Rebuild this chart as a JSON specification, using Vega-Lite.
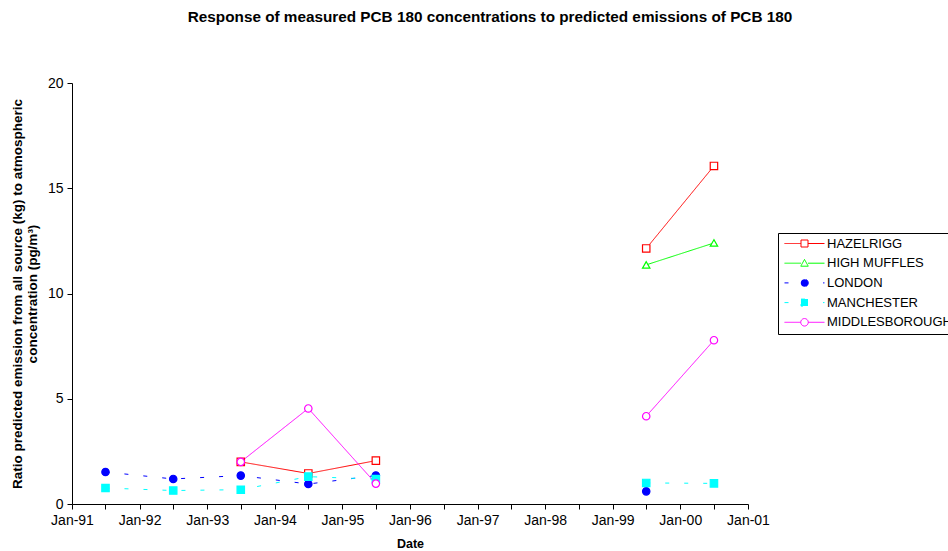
{
  "$schema": "https://vega.github.io/schema/vega-lite/v6.json",
  "width": 676,
  "height": 421,
  "autosize": {"type": "none"},
  "padding": {"left": 72, "top": 83, "right": 200, "bottom": 47},
  "background": "white",
  "title": {
    "text": "Response of measured PCB 180 concentrations to predicted emissions of PCB 180",
    "anchor": "middle",
    "frame": "group",
    "dx": 80,
    "offset": 51,
    "fontSize": 15.3,
    "fontWeight": "bold",
    "font": "Liberation Sans",
    "color": "black"
  },
  "config": {
    "view": {"stroke": null},
    "axis": {
      "labelFont": "Liberation Sans",
      "labelFontSize": 14,
      "labelColor": "black",
      "domainColor": "black",
      "tickColor": "black",
      "titleFont": "Liberation Sans",
      "titleFontSize": 13.5,
      "titleFontWeight": "bold",
      "titleColor": "black",
      "grid": false,
      "tickSize": 5
    }
  },
  "data": {
    "values": [
      {"site": "HAZELRIGG", "date": "1993-07-01", "ratio": 2.0, "seg": "a"},
      {"site": "HAZELRIGG", "date": "1994-07-01", "ratio": 1.45, "seg": "a"},
      {"site": "HAZELRIGG", "date": "1995-07-01", "ratio": 2.06, "seg": "a"},
      {"site": "HAZELRIGG", "date": "1999-07-01", "ratio": 12.14, "seg": "b"},
      {"site": "HAZELRIGG", "date": "2000-07-01", "ratio": 16.06, "seg": "b"},
      {"site": "HIGH MUFFLES", "date": "1999-07-01", "ratio": 11.36, "seg": "b"},
      {"site": "HIGH MUFFLES", "date": "2000-07-01", "ratio": 12.4, "seg": "b"},
      {"site": "LONDON", "date": "1991-07-01", "ratio": 1.52, "seg": "a"},
      {"site": "LONDON", "date": "1992-07-01", "ratio": 1.19, "seg": "a"},
      {"site": "LONDON", "date": "1993-07-01", "ratio": 1.35, "seg": "a"},
      {"site": "LONDON", "date": "1994-07-01", "ratio": 0.95, "seg": "a"},
      {"site": "LONDON", "date": "1995-07-01", "ratio": 1.35, "seg": "a"},
      {"site": "LONDON", "date": "1999-07-01", "ratio": 0.6, "seg": "b"},
      {"site": "MANCHESTER", "date": "1991-07-01", "ratio": 0.76, "seg": "a"},
      {"site": "MANCHESTER", "date": "1992-07-01", "ratio": 0.64, "seg": "a"},
      {"site": "MANCHESTER", "date": "1993-07-01", "ratio": 0.68, "seg": "a"},
      {"site": "MANCHESTER", "date": "1994-07-01", "ratio": 1.3, "seg": "a"},
      {"site": "MANCHESTER", "date": "1995-07-01", "ratio": 1.18, "seg": "a"},
      {"site": "MANCHESTER", "date": "1999-07-01", "ratio": 1.0, "seg": "b"},
      {"site": "MANCHESTER", "date": "2000-07-01", "ratio": 0.98, "seg": "b"},
      {"site": "MIDDLESBOROUGH", "date": "1993-07-01", "ratio": 2.0, "seg": "a"},
      {"site": "MIDDLESBOROUGH", "date": "1994-07-01", "ratio": 4.54, "seg": "a"},
      {"site": "MIDDLESBOROUGH", "date": "1995-07-01", "ratio": 0.97, "seg": "a"},
      {"site": "MIDDLESBOROUGH", "date": "1999-07-01", "ratio": 4.17, "seg": "b"},
      {"site": "MIDDLESBOROUGH", "date": "2000-07-01", "ratio": 7.78, "seg": "b"}
    ]
  },
  "encoding": {
    "x": {
      "field": "date",
      "type": "temporal",
      "scale": {"type": "utc", "domain": [{"year": 1991, "month": 1, "date": 1, "utc": true}, {"year": 2001, "month": 1, "date": 1, "utc": true}]},
      "axis": {
        "title": "Date",
        "titleFontSize": 12.5,
        "values": [
          {"year": 1991, "month": 1, "date": 1, "utc": true}, {"year": 1991, "month": 7, "date": 1, "utc": true},
          {"year": 1992, "month": 1, "date": 1, "utc": true}, {"year": 1992, "month": 7, "date": 1, "utc": true},
          {"year": 1993, "month": 1, "date": 1, "utc": true}, {"year": 1993, "month": 7, "date": 1, "utc": true},
          {"year": 1994, "month": 1, "date": 1, "utc": true}, {"year": 1994, "month": 7, "date": 1, "utc": true},
          {"year": 1995, "month": 1, "date": 1, "utc": true}, {"year": 1995, "month": 7, "date": 1, "utc": true},
          {"year": 1996, "month": 1, "date": 1, "utc": true}, {"year": 1996, "month": 7, "date": 1, "utc": true},
          {"year": 1997, "month": 1, "date": 1, "utc": true}, {"year": 1997, "month": 7, "date": 1, "utc": true},
          {"year": 1998, "month": 1, "date": 1, "utc": true}, {"year": 1998, "month": 7, "date": 1, "utc": true},
          {"year": 1999, "month": 1, "date": 1, "utc": true}, {"year": 1999, "month": 7, "date": 1, "utc": true},
          {"year": 2000, "month": 1, "date": 1, "utc": true}, {"year": 2000, "month": 7, "date": 1, "utc": true},
          {"year": 2001, "month": 1, "date": 1, "utc": true}
        ],
        "labelExpr": "utcmonth(datum.value) == 0 ? utcFormat(datum.value, '%b-%y') : ''",
        "labelPadding": 4,
        "titlePadding": 10,
        "labelOverlap": false,
        "labelFlush": false
      }
    },
    "y": {
      "field": "ratio",
      "type": "quantitative",
      "scale": {"domain": [0, 20], "nice": false},
      "axis": {
        "values": [0, 5, 10, 15, 20],
        "title": ["Ratio predicted emission from all source (kg)  to atmospheric", "concentration  (pg/m³)"],
        "titleLineHeight": 15,
        "labelPadding": 4,
        "titlePadding": 8
      }
    }
  },
  "layer": [
    {
      "mark": {"type": "line", "strokeWidth": 1},
      "encoding": {
        "detail": {"field": "seg"},
        "stroke": {
          "field": "site",
          "type": "nominal",
          "scale": {
            "domain": ["HAZELRIGG", "HIGH MUFFLES", "LONDON", "MANCHESTER", "MIDDLESBOROUGH"],
            "range": ["#FF0000", "#00FF00", "#0000FF", "#00FFFF", "#FF00FF"]
          },
          "legend": {
            "title": null,
            "orient": "none",
            "legendX": 706,
            "legendY": 150,
            "strokeColor": "black",
            "fillColor": "white",
            "padding": 4,
            "rowPadding": 5.7,
            "labelFont": "Liberation Sans",
            "labelFontSize": 13,
            "labelColor": "black",
            "symbolSize": 100,
            "symbolStrokeWidth": 1,
            "symbolDash": [],
            "labelOffset": 32,
            "symbolType": "M-0.8,0H2.5M3.9,0H7.2M2.5,-0.7H3.9V0.7H2.5Z",
            "encode": {
              "symbols": {
                "update": {
                  "shape": {
                    "signal": "datum.value === 'HAZELRIGG' ? 'M-0.8,0H2.5M3.9,0H7.2M2.5,-0.7H3.9V0.7H2.5Z' : datum.value === 'HIGH MUFFLES' ? 'M-0.8,0H2.5M3.9,0H7.2M3.2,-0.75L3.95,0.6H2.45Z' : datum.value === 'LONDON' ? 'M-0.8,0H0M6.9,0H7.2M3.95,0A0.75,0.75 0 1,1 2.45,0A0.75,0.75 0 1,1 3.95,0Z' : datum.value === 'MANCHESTER' ? 'M-0.8,0H0M6.9,0H7.2M2.5,-0.7H3.9V0.7H2.5Z' : 'M-0.8,0H2.45M3.95,0H7.2M3.95,0A0.75,0.75 0 1,1 2.45,0A0.75,0.75 0 1,1 3.95,0Z'"
                  },
                  "fill": {
                    "signal": "datum.value === 'LONDON' ? '#0000FF' : datum.value === 'MANCHESTER' ? '#00FFFF' : '#FFFFFF'"
                  },
                  "strokeDash": {"value": []}
                }
              }
            }
          }
        },
        "strokeDash": {
          "field": "site",
          "type": "nominal",
          "scale": {
            "domain": ["HAZELRIGG", "HIGH MUFFLES", "LONDON", "MANCHESTER", "MIDDLESBOROUGH"],
            "range": [[1, 0], [1, 0], [4, 15], [4, 15], [1, 0]]
          },
          "legend": null
        }
      }
    },
    {
      "transform": [{"filter": "datum.site === 'HAZELRIGG'"}],
      "mark": {"type": "point", "shape": "square", "size": 55, "strokeWidth": 1.2, "opacity": 1, "fill": "#FFFFFF", "filled": false},
      "encoding": {"stroke": {"field": "site", "type": "nominal"}}
    },
    {
      "transform": [{"filter": "datum.site === 'HIGH MUFFLES'"}],
      "mark": {"type": "point", "shape": "triangle-up", "size": 55, "strokeWidth": 1.2, "opacity": 1, "fill": "#FFFFFF", "filled": false},
      "encoding": {"stroke": {"field": "site", "type": "nominal"}}
    },
    {
      "transform": [{"filter": "datum.site === 'LONDON'"}],
      "mark": {"type": "point", "shape": "circle", "size": 55, "strokeWidth": 1.2, "opacity": 1, "fill": "#0000FF", "filled": false},
      "encoding": {"stroke": {"field": "site", "type": "nominal"}}
    },
    {
      "transform": [{"filter": "datum.site === 'MANCHESTER'"}],
      "mark": {"type": "point", "shape": "square", "size": 55, "strokeWidth": 1.2, "opacity": 1, "fill": "#00FFFF", "filled": false},
      "encoding": {"stroke": {"field": "site", "type": "nominal"}}
    },
    {
      "transform": [{"filter": "datum.site === 'MIDDLESBOROUGH'"}],
      "mark": {"type": "point", "shape": "circle", "size": 55, "strokeWidth": 1.2, "opacity": 1, "fill": "#FFFFFF", "filled": false},
      "encoding": {"stroke": {"field": "site", "type": "nominal"}}
    }
  ]
}
